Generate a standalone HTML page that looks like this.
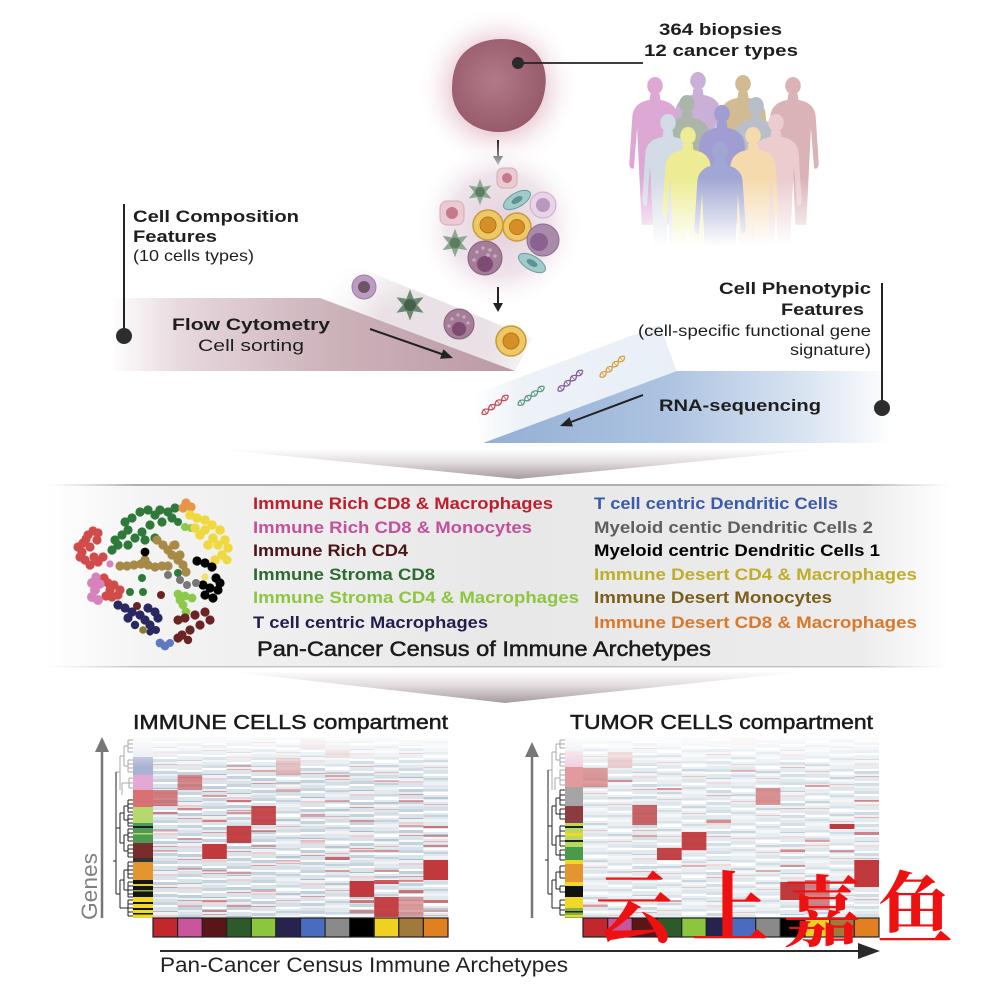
<!DOCTYPE html>
<html><head><meta charset="utf-8"><style>html,body{margin:0;padding:0;background:#fff}svg{display:block}</style></head>
<body>
<svg width="996" height="996" viewBox="0 0 996 996" xmlns="http://www.w3.org/2000/svg" xmlns:xlink="http://www.w3.org/1999/xlink" font-family="'Liberation Sans', sans-serif">
<defs>
  <radialGradient id="tGlow" cx="498" cy="88" r="82" gradientUnits="userSpaceOnUse">
    <stop offset="0.5" stop-color="#e6c3cd" stop-opacity="0.9"/>
    <stop offset="1" stop-color="#ffffff" stop-opacity="0"/>
  </radialGradient>
  <radialGradient id="tFill" cx="0.45" cy="0.45" r="0.6">
    <stop offset="0" stop-color="#b27a89"/>
    <stop offset="1" stop-color="#955868"/>
  </radialGradient>
  <radialGradient id="haze" cx="500" cy="225" r="85" gradientUnits="userSpaceOnUse">
    <stop offset="0" stop-color="#e3d0dc"/>
    <stop offset="0.6" stop-color="#efe4eb"/>
    <stop offset="1" stop-color="#ffffff" stop-opacity="0"/>
  </radialGradient>
  <linearGradient id="mauve" x1="110" y1="0" x2="515" y2="0" gradientUnits="userSpaceOnUse">
    <stop offset="0" stop-color="#ffffff"/>
    <stop offset="0.18" stop-color="#e6d8dc"/>
    <stop offset="0.55" stop-color="#cdb2ba"/>
    <stop offset="1" stop-color="#bb9aa5"/>
  </linearGradient>
  <linearGradient id="conv1" x1="340" y1="270" x2="360" y2="320" gradientUnits="userSpaceOnUse">
    <stop offset="0" stop-color="#ffffff"/>
    <stop offset="1" stop-color="#e9e1e5"/>
  </linearGradient>
  <linearGradient id="conv1h" x1="320" y1="0" x2="530" y2="0" gradientUnits="userSpaceOnUse">
    <stop offset="0" stop-color="#ffffff" stop-opacity="1"/>
    <stop offset="0.3" stop-color="#ffffff" stop-opacity="0"/>
    <stop offset="0.8" stop-color="#ffffff" stop-opacity="0"/>
    <stop offset="1" stop-color="#ffffff" stop-opacity="0.7"/>
  </linearGradient>
  <linearGradient id="blue" x1="483" y1="0" x2="892" y2="0" gradientUnits="userSpaceOnUse">
    <stop offset="0" stop-color="#93afd4"/>
    <stop offset="0.45" stop-color="#adc3e1"/>
    <stop offset="0.8" stop-color="#dbe5f2"/>
    <stop offset="1" stop-color="#ffffff"/>
  </linearGradient>
  <linearGradient id="conv2" x1="470" y1="0" x2="680" y2="0" gradientUnits="userSpaceOnUse">
    <stop offset="0" stop-color="#ffffff"/>
    <stop offset="0.25" stop-color="#edf2f8"/>
    <stop offset="1" stop-color="#e9eff7"/>
  </linearGradient>
  <linearGradient id="sep" x1="0" y1="0" x2="0" y2="1">
    <stop offset="0" stop-color="#ffffff"/>
    <stop offset="0.45" stop-color="#e2dcde"/>
    <stop offset="1" stop-color="#a39a9e"/>
  </linearGradient>
  <linearGradient id="panel" x1="45" y1="0" x2="950" y2="0" gradientUnits="userSpaceOnUse">
    <stop offset="0" stop-color="#ffffff"/>
    <stop offset="0.12" stop-color="#f3f3f3"/>
    <stop offset="0.5" stop-color="#e8e8e8"/>
    <stop offset="0.9" stop-color="#ececec"/>
    <stop offset="1" stop-color="#ffffff"/>
  </linearGradient>
  <linearGradient id="pline" x1="45" y1="0" x2="950" y2="0" gradientUnits="userSpaceOnUse">
    <stop offset="0" stop-color="#cccccc" stop-opacity="0"/>
    <stop offset="0.1" stop-color="#b0b0b0"/>
    <stop offset="0.9" stop-color="#b0b0b0"/>
    <stop offset="1" stop-color="#cccccc" stop-opacity="0"/>
  </linearGradient>
  <linearGradient id="fadeW" x1="0" y1="0" x2="0" y2="1">
    <stop offset="0" stop-color="#ffffff" stop-opacity="0"/>
    <stop offset="1" stop-color="#ffffff" stop-opacity="1"/>
  </linearGradient>
  <linearGradient id="topFade" x1="0" y1="0" x2="0" y2="1">
    <stop offset="0" stop-color="#ffffff" stop-opacity="0.9"/>
    <stop offset="1" stop-color="#ffffff" stop-opacity="0"/>
  </linearGradient>
  <clipPath id="pclip"><rect x="590" y="60" width="260" height="185"/></clipPath>
  <pattern id="pA" patternUnits="userSpaceOnUse" x="0" y="0" width="40" height="41">
    <rect width="40" height="41" fill="#dae3ea"/>
    <rect y="0" width="40" height="3" fill="#c7d4de"/>
    <rect y="3" width="40" height="2" fill="#ffffff"/>
    <rect y="9" width="40" height="1" fill="#a9bccb"/>
    <rect y="10" width="40" height="3" fill="#eef2f5"/>
    <rect y="13" width="40" height="2" fill="#ebcfd1"/>
    <rect y="19" width="40" height="2" fill="#ffffff"/>
    <rect y="21" width="40" height="3" fill="#bfcfdb"/>
    <rect y="24" width="40" height="2" fill="#e8eef2"/>
    <rect y="26" width="40" height="1" fill="#d99a9e"/>
    <rect y="31" width="40" height="2" fill="#f6f8fa"/>
    <rect y="33" width="40" height="3" fill="#c5d3dd"/>
    <rect y="36" width="40" height="2" fill="#ecf0f3"/>
  </pattern>
  <pattern id="pB" patternUnits="userSpaceOnUse" x="0" y="0" width="40" height="37">
    <rect width="40" height="37" fill="#e2e9ee"/>
    <rect y="1" width="40" height="2" fill="#cdd9e2"/>
    <rect y="4" width="40" height="3" fill="#ffffff"/>
    <rect y="9" width="40" height="2" fill="#b7c8d5"/>
    <rect y="12" width="40" height="2" fill="#f4f6f8"/>
    <rect y="16" width="40" height="1" fill="#e1b3b6"/>
    <rect y="19" width="40" height="3" fill="#d3dee6"/>
    <rect y="23" width="40" height="2" fill="#ffffff"/>
    <rect y="27" width="40" height="2" fill="#c3d2dc"/>
    <rect y="31" width="40" height="3" fill="#f0f3f6"/>
  </pattern>
  <g id="person">
    <circle cx="0" cy="10" r="10"/>
    <path d="M-6 19 L6 19 L7 26 Q27 29 29 44 L33 98 Q33 105 27 104 L23 58 L21 95 L17 168 L3 168 L0 108 L-3 168 L-17 168 L-21 95 L-23 58 L-27 104 Q-33 105 -33 98 L-29 44 Q-27 29 -7 26 Z"/>
  </g>
  <polygon id="star" points="0,-13 3,-5.2 11.3,-6.5 6,0 11.3,6.5 3,5.2 0,13 -3,5.2 -11.3,6.5 -6,0 -11.3,-6.5 -3,-5.2"/>
  <g id="dna" fill="none" stroke-width="1.3">
    <path d="M0 0 q4 -5 8 0 t8 0 t8 0 t8 0"/><path d="M0 0 q4 5 8 0 t8 0 t8 0 t8 0"/>
    <path d="M4 -3 v6 M12 -3 v6 M20 -3 v6 M28 -3 v6" stroke-width="0.8"/>
  </g>
</defs>

<rect width="996" height="996" fill="#ffffff"/>

<!-- ===== TOP: tumor ===== -->
<circle cx="498" cy="88" r="82" fill="url(#tGlow)"/>
<path d="M455 68 C462 44 490 36 513 40 C536 45 549 63 545 89 C542 113 524 133 497 132 C470 131 452 112 452 90 C452 81 453 74 455 68 Z" fill="url(#tFill)"/>
<line x1="518" y1="63" x2="643" y2="63" stroke="#222" stroke-width="1.8"/>
<circle cx="518" cy="63" r="6" fill="#2a2a2a"/>

<text x="659" y="35" font-size="17" font-weight="bold" fill="#1e1e1e" textLength="123" lengthAdjust="spacingAndGlyphs">364 biopsies</text>
<text x="644" y="56" font-size="17" font-weight="bold" fill="#1e1e1e" textLength="154" lengthAdjust="spacingAndGlyphs">12 cancer types</text>

<!-- people -->
<g clip-path="url(#pclip)">
<g opacity="0.88">
  <use xlink:href="#person" transform="translate(655,77) scale(0.78,0.88)" fill="#da9dd0"/>
  <use xlink:href="#person" transform="translate(698,72) scale(0.78,0.88)" fill="#c3a5d2"/>
  <use xlink:href="#person" transform="translate(743,75) scale(0.78,0.88)" fill="#cbb283"/>
  <use xlink:href="#person" transform="translate(793,77) scale(0.78,0.88)" fill="#d5a9ae"/>
  <use xlink:href="#person" transform="translate(687,95) scale(0.78,0.88)" fill="#a1ab9f"/>
  <use xlink:href="#person" transform="translate(756,97) scale(0.78,0.88)" fill="#b0b7c2"/>
  <use xlink:href="#person" transform="translate(722,105) scale(0.78,0.88)" fill="#9290cc"/>
  <use xlink:href="#person" transform="translate(668,114) scale(0.78,0.88)" fill="#cdd7e4"/>
  <use xlink:href="#person" transform="translate(776,114) scale(0.78,0.88)" fill="#e9c6c9"/>
  <use xlink:href="#person" transform="translate(688,127) scale(0.78,0.88)" fill="#ebea86"/>
  <use xlink:href="#person" transform="translate(753,127) scale(0.78,0.88)" fill="#f4d6a3"/>
  <use xlink:href="#person" transform="translate(720,142) scale(0.78,0.88)" fill="#959ccf"/>
</g>
</g>
<rect x="590" y="178" width="260" height="68" fill="url(#fadeW)"/>

<!-- arrows and cell cluster -->
<line x1="498" y1="140" x2="498" y2="158" stroke="#222" stroke-width="2"/>
<polygon points="493,156 498,165 503,156" fill="#222"/>
<circle cx="500" cy="225" r="85" fill="url(#haze)"/>

<g transform="translate(507,178)"><rect x="-10" y="-10" width="20" height="20" rx="6" fill="#ebcbd3" stroke="#d6aab5"/><circle r="5" fill="#c57a8c"/></g>
<g transform="translate(452,213)"><rect x="-12" y="-12" width="24" height="24" rx="7" fill="#ebcbd3" stroke="#d6aab5"/><circle r="6" fill="#c57a8c"/></g>
<g transform="translate(480,192)"><use xlink:href="#star" fill="#8da891"/><circle r="5" fill="#5d7d63"/></g>
<g transform="translate(455,243) scale(1.1)"><use xlink:href="#star" fill="#8da891"/><circle r="5" fill="#5d7d63"/></g>
<g transform="translate(517,200) rotate(-30)"><ellipse rx="15" ry="7" fill="#a0cbcb" stroke="#6b9c9c"/><ellipse rx="6" ry="3" fill="#5e9294"/></g>
<g transform="translate(532,263) rotate(30)"><ellipse rx="15" ry="7" fill="#a0cbcb" stroke="#6b9c9c"/><ellipse rx="6" ry="3" fill="#5e9294"/></g>
<g transform="translate(543,205)"><circle r="13" fill="#e8d3e8" stroke="#c9abc9"/><circle r="7" fill="#b899bd"/></g>
<g transform="translate(488,225)"><circle r="15" fill="#edc866" stroke="#c99a3a" stroke-width="1.5"/><circle r="8" fill="#d68f26" stroke="#b87418"/></g>
<g transform="translate(517,227)"><circle r="14" fill="#edc866" stroke="#c99a3a" stroke-width="1.5"/><circle r="7.5" fill="#d68f26" stroke="#b87418"/></g>
<g transform="translate(543,240)"><circle r="16" fill="#aa8aab" stroke="#8d6d90"/><circle cx="-4" cy="2" r="9" fill="#8a6290"/></g>
<g transform="translate(485,258)"><circle r="17" fill="#a57d98" stroke="#86607c"/><circle cx="0" cy="6" r="8" fill="#7e4c72"/><g fill="#c9a8c0"><circle cx="-8" cy="-6" r="1.8"/><circle cx="-2" cy="-10" r="1.8"/><circle cx="5" cy="-8" r="1.8"/><circle cx="10" cy="-2" r="1.8"/><circle cx="-11" cy="2" r="1.8"/><circle cx="3" cy="-3" r="1.8"/></g></g>

<line x1="498" y1="287" x2="498" y2="305" stroke="#222" stroke-width="2"/>
<polygon points="493,303 498,312 503,303" fill="#222"/>

<!-- Flow cytometry band -->
<polygon points="345,262 532,338 515,371 320,298" fill="url(#conv1)"/>
<polygon points="345,262 532,338 515,371 320,298" fill="url(#conv1h)"/>
<polygon points="113,298 320,298 515,371 113,371" fill="url(#mauve)"/>
<g transform="translate(364,287)"><circle r="12" fill="#bd9cc4" stroke="#9d7da4"/><circle r="6" fill="#6e5566"/></g>
<g transform="translate(410,305) scale(1.2)"><use xlink:href="#star" fill="#6b8a72"/><circle r="5" fill="#44604a"/></g>
<g transform="translate(459,324)"><circle r="15" fill="#a57d98" stroke="#86607c"/><circle cx="0" cy="5" r="7" fill="#7e4c72"/><g fill="#c9a8c0"><circle cx="-7" cy="-5" r="1.6"/><circle cx="-1" cy="-9" r="1.6"/><circle cx="5" cy="-7" r="1.6"/><circle cx="9" cy="-1" r="1.6"/><circle cx="-10" cy="2" r="1.6"/></g></g>
<g transform="translate(511,341)"><circle r="15" fill="#edc866" stroke="#c99a3a" stroke-width="1.5"/><circle r="8" fill="#d68f26" stroke="#b87418"/></g>

<line x1="370" y1="329" x2="443" y2="354.5" stroke="#222" stroke-width="2"/>
<polygon points="453,358 440,358.7 443.4,349.3" fill="#222"/>

<line x1="124" y1="204" x2="124" y2="336" stroke="#222" stroke-width="2"/>
<circle cx="124" cy="336" r="8" fill="#2d2d2d"/>
<text x="133" y="222" font-size="17" font-weight="bold" fill="#1e1e1e" textLength="166" lengthAdjust="spacingAndGlyphs">Cell Composition</text>
<text x="133" y="242" font-size="17" font-weight="bold" fill="#1e1e1e" textLength="84" lengthAdjust="spacingAndGlyphs">Features</text>
<text x="133" y="261" font-size="16" fill="#1e1e1e" textLength="121" lengthAdjust="spacingAndGlyphs">(10 cells types)</text>
<text x="172" y="330" font-size="17" font-weight="bold" fill="#1e1e1e" textLength="158" lengthAdjust="spacingAndGlyphs">Flow Cytometry</text>
<text x="198" y="351" font-size="17" fill="#1e1e1e" textLength="106" lengthAdjust="spacingAndGlyphs">Cell sorting</text>

<!-- RNA band -->
<polygon points="472,395 660,325 677,372 483,443" fill="url(#conv2)"/>
<polygon points="677,371 892,371 892,443 483,443" fill="url(#blue)"/>
<use xlink:href="#dna" transform="translate(482,414) rotate(-35)" stroke="#c24d5a"/>
<use xlink:href="#dna" transform="translate(518,405) rotate(-35)" stroke="#5d9a7f"/>
<use xlink:href="#dna" transform="translate(558,391) rotate(-40)" stroke="#8a5b9c"/>
<use xlink:href="#dna" transform="translate(600,377) rotate(-40)" stroke="#d8a040"/>
<line x1="643" y1="395" x2="571" y2="422" stroke="#222" stroke-width="2"/>
<polygon points="560,426 569.5,417.1 573,426.5" fill="#222"/>
<text x="659" y="411" font-size="17" font-weight="bold" fill="#1e1e1e" textLength="162" lengthAdjust="spacingAndGlyphs">RNA-sequencing</text>

<line x1="882" y1="283" x2="882" y2="408" stroke="#222" stroke-width="2"/>
<circle cx="882" cy="408" r="8" fill="#2d2d2d"/>
<text x="719" y="294" font-size="17" font-weight="bold" fill="#1e1e1e" textLength="152" lengthAdjust="spacingAndGlyphs">Cell Phenotypic</text>
<text x="781" y="315" font-size="17" font-weight="bold" fill="#1e1e1e" textLength="83" lengthAdjust="spacingAndGlyphs">Features</text>
<text x="638" y="336" font-size="16" fill="#1e1e1e" textLength="233" lengthAdjust="spacingAndGlyphs">(cell-specific functional gene</text>
<text x="790" y="355" font-size="16" fill="#1e1e1e" textLength="81" lengthAdjust="spacingAndGlyphs">signature)</text>

<!-- separator 1 -->
<polygon points="215,449 825,449 518,479" fill="url(#sep)"/>

<!-- ===== MIDDLE PANEL ===== -->
<rect x="45" y="485" width="905" height="182" fill="url(#panel)"/>
<rect x="45" y="484" width="905" height="2" fill="url(#pline)"/>
<rect x="45" y="666" width="905" height="1.5" fill="url(#pline)" opacity="0.7"/>

<!-- scatter -->
<g>
  <g fill="#d24b4b">
    <circle cx="78" cy="547" r="4.6"/><circle cx="82" cy="552" r="4.6"/><circle cx="80" cy="557" r="4.6"/><circle cx="85" cy="560" r="4.6"/><circle cx="90" cy="565" r="4.6"/><circle cx="83" cy="543" r="4.6"/><circle cx="88" cy="535" r="4.6"/><circle cx="93" cy="531" r="4.6"/><circle cx="98" cy="533" r="4.6"/><circle cx="97" cy="540" r="4.6"/><circle cx="94" cy="557" r="4.6"/><circle cx="98" cy="562" r="4.6"/><circle cx="103" cy="557" r="4.6"/><circle cx="90" cy="547" r="4.6"/><circle cx="86" cy="539" r="4.6"/>
    <circle cx="104" cy="578" r="4.6"/><circle cx="108" cy="583" r="4.6"/><circle cx="110" cy="590" r="4.6"/><circle cx="106" cy="596" r="4.6"/><circle cx="112" cy="597" r="4.6"/><circle cx="118" cy="595" r="4.6"/><circle cx="114" cy="585" r="4.6"/><circle cx="120" cy="590" r="4.6"/>
  </g>
  <g fill="#d683bb">
    <circle cx="92" cy="583" r="5"/><circle cx="95" cy="590" r="5"/><circle cx="92" cy="597" r="5"/><circle cx="98" cy="600" r="5"/><circle cx="96" cy="577" r="4.6"/><circle cx="100" cy="584" r="4.6"/><circle cx="110" cy="564" r="3.6"/>
  </g>
  <g fill="#2f7a3a">
    <circle cx="112" cy="550" r="4.6"/><circle cx="118" cy="545" r="4.6"/><circle cx="115" cy="540" r="4.6"/><circle cx="122" cy="535" r="4.6"/><circle cx="128" cy="530" r="4.6"/><circle cx="125" cy="522" r="4.6"/><circle cx="132" cy="518" r="4.6"/><circle cx="140" cy="512" r="4.6"/><circle cx="148" cy="510" r="4.6"/><circle cx="155" cy="515" r="4.6"/><circle cx="160" cy="510" r="4.6"/><circle cx="168" cy="512" r="4.6"/><circle cx="175" cy="508" r="4.6"/><circle cx="172" cy="518" r="4.6"/><circle cx="162" cy="522" r="4.6"/><circle cx="150" cy="525" r="4.6"/><circle cx="142" cy="532" r="4.6"/><circle cx="135" cy="538" r="4.6"/><circle cx="145" cy="540" r="4.6"/><circle cx="155" cy="538" r="4.6"/><circle cx="128" cy="545" r="4.6"/><circle cx="178" cy="522" r="4"/>
    <circle cx="142" cy="578" r="4"/><circle cx="130" cy="592" r="4"/><circle cx="143" cy="592" r="4"/><circle cx="178" cy="573" r="4"/>
  </g>
  <g fill="#e8944a"><circle cx="186" cy="503" r="4.6"/><circle cx="191" cy="507" r="4.6"/><circle cx="183" cy="508" r="4.6"/><circle cx="173" cy="545" r="4"/></g>
  <g fill="#8cc84a"><circle cx="185" cy="527" r="4"/><circle cx="191" cy="528" r="4"/></g>
  <g fill="#f0d840">
    <circle cx="190" cy="515" r="4.8"/><circle cx="197" cy="518" r="4.8"/><circle cx="205" cy="520" r="4.8"/><circle cx="212" cy="525" r="4.8"/><circle cx="220" cy="530" r="4.8"/><circle cx="225" cy="540" r="4.8"/><circle cx="228" cy="548" r="4.8"/><circle cx="222" cy="555" r="4.8"/><circle cx="215" cy="560" r="4.8"/><circle cx="208" cy="545" r="4.8"/><circle cx="200" cy="535" r="4.8"/><circle cx="213" cy="538" r="4.8"/><circle cx="195" cy="528" r="4.8"/><circle cx="218" cy="545" r="4.8"/><circle cx="227" cy="560" r="4.5"/><circle cx="205" cy="530" r="4.8"/>
  </g>
  <g fill="#a68a45">
    <circle cx="120" cy="566" r="4.6"/><circle cx="127" cy="566" r="4.6"/><circle cx="134" cy="565" r="4.6"/><circle cx="141" cy="564" r="4.6"/><circle cx="148" cy="565" r="4.6"/><circle cx="155" cy="567" r="4.6"/><circle cx="162" cy="566" r="4.6"/><circle cx="168" cy="566" r="4.6"/><circle cx="145" cy="560" r="4.6"/>
    <circle cx="157" cy="540" r="4.6"/><circle cx="163" cy="545" r="4.6"/><circle cx="168" cy="550" r="4.6"/><circle cx="172" cy="555" r="4.6"/><circle cx="178" cy="560" r="4.6"/><circle cx="183" cy="565" r="4.6"/><circle cx="186" cy="572" r="4.6"/><circle cx="175" cy="545" r="4.6"/><circle cx="180" cy="555" r="4.6"/>
  </g>
  <g fill="#000">
    <circle cx="145" cy="552" r="4.4"/><circle cx="197" cy="561" r="4.6"/><circle cx="205" cy="563" r="4.6"/><circle cx="212" cy="567" r="4.6"/><circle cx="203" cy="585" r="4.6"/><circle cx="210" cy="588" r="4.6"/><circle cx="218" cy="590" r="4.6"/><circle cx="205" cy="595" r="4.6"/><circle cx="213" cy="598" r="4.6"/><circle cx="220" cy="583" r="4.6"/><circle cx="216" cy="578" r="4.6"/>
  </g>
  <g fill="#777"><circle cx="168" cy="575" r="4"/><circle cx="180" cy="580" r="4"/><circle cx="187" cy="585" r="4"/><circle cx="196" cy="583" r="4"/></g>
  <circle cx="205" cy="577" r="3.6" fill="#f0e070"/>
  <g fill="#8cc84a"><circle cx="178" cy="594" r="4.4"/><circle cx="185" cy="596" r="4.4"/><circle cx="192" cy="598" r="4.4"/><circle cx="183" cy="605" r="4.4"/><circle cx="186" cy="612" r="4.4"/><circle cx="180" cy="600" r="4.4"/></g>
  <g fill="#6a2424">
    <circle cx="161" cy="595" r="4"/><circle cx="137" cy="606" r="4"/><circle cx="178" cy="620" r="4.6"/><circle cx="185" cy="618" r="4.6"/><circle cx="190" cy="630" r="4.6"/><circle cx="182" cy="635" r="4.6"/><circle cx="195" cy="615" r="4.6"/><circle cx="205" cy="612" r="4.6"/><circle cx="210" cy="620" r="4.6"/><circle cx="200" cy="625" r="4.6"/><circle cx="178" cy="638" r="4.6"/><circle cx="188" cy="640" r="4.2"/>
  </g>
  <g fill="#2a2860">
    <circle cx="118" cy="605" r="4.6"/><circle cx="125" cy="608" r="4.6"/><circle cx="132" cy="612" r="4.6"/><circle cx="140" cy="615" r="4.6"/><circle cx="145" cy="620" r="4.6"/><circle cx="150" cy="625" r="4.6"/><circle cx="148" cy="608" r="4.6"/><circle cx="155" cy="612" r="4.6"/><circle cx="158" cy="618" r="4.6"/><circle cx="135" cy="625" r="4.2"/><circle cx="128" cy="618" r="4.6"/><circle cx="156" cy="630" r="4"/><circle cx="150" cy="632" r="3.6"/>
  </g>
  <circle cx="143" cy="630" r="3.8" fill="#8a7a30"/>
  <g fill="#6078c0"><circle cx="160" cy="643" r="4.4"/><circle cx="165" cy="646" r="4.4"/><circle cx="170" cy="643" r="4"/></g>
</g>

<g font-size="17" font-weight="bold">
  <text x="253" y="509" fill="#be1e2d" textLength="300" lengthAdjust="spacingAndGlyphs">Immune Rich CD8 &amp; Macrophages</text>
  <text x="253" y="533" fill="#c4509a" textLength="279" lengthAdjust="spacingAndGlyphs">Immune Rich CD8 &amp; Monocytes</text>
  <text x="253" y="556" fill="#4a1515" textLength="155" lengthAdjust="spacingAndGlyphs">Immune Rich CD4</text>
  <text x="253" y="580" fill="#2e6b30" textLength="182" lengthAdjust="spacingAndGlyphs">Immune Stroma CD8</text>
  <text x="253" y="603" fill="#8dc63f" textLength="326" lengthAdjust="spacingAndGlyphs">Immune Stroma CD4 &amp; Macrophages</text>
  <text x="253" y="628" fill="#211e4e" textLength="235" lengthAdjust="spacingAndGlyphs">T cell centric Macrophages</text>
  <text x="594" y="509" fill="#3b5ba9" textLength="244" lengthAdjust="spacingAndGlyphs">T cell centric Dendritic Cells</text>
  <text x="594" y="533" fill="#5f5f5f" textLength="279" lengthAdjust="spacingAndGlyphs">Myeloid centic Dendritic Cells 2</text>
  <text x="594" y="556" fill="#000000" textLength="286" lengthAdjust="spacingAndGlyphs">Myeloid centric Dendritic Cells 1</text>
  <text x="594" y="580" fill="#bfae2a" textLength="323" lengthAdjust="spacingAndGlyphs">Immune Desert CD4 &amp; Macrophages</text>
  <text x="594" y="603" fill="#7b5e1c" textLength="238" lengthAdjust="spacingAndGlyphs">Immune Desert Monocytes</text>
  <text x="594" y="628" fill="#d9782a" textLength="323" lengthAdjust="spacingAndGlyphs">Immune Desert CD8 &amp; Macrophages</text>
</g>
<text x="257" y="656" font-size="21" fill="#1a1a1a" stroke="#1a1a1a" stroke-width="0.5" textLength="454" lengthAdjust="spacingAndGlyphs">Pan-Cancer Census of Immune Archetypes</text>

<!-- separator 2 -->
<polygon points="225,671 810,671 505,703" fill="url(#sep)"/>

<!-- ===== BOTTOM ===== -->
<text x="133" y="729" font-size="20" fill="#1a1a1a" stroke="#1a1a1a" stroke-width="0.5" textLength="315" lengthAdjust="spacingAndGlyphs">IMMUNE CELLS compartment</text>
<text x="570" y="729" font-size="20" fill="#1a1a1a" stroke="#1a1a1a" stroke-width="0.5" textLength="303" lengthAdjust="spacingAndGlyphs">TUMOR CELLS compartment</text>

<!-- left heatmap -->
<g>
  <rect x="153" y="737" width="24.6" height="181" fill="url(#pA)"/>
  <rect x="177.6" y="724" width="24.6" height="181" fill="url(#pA)" transform="translate(0,13)"/>
  <rect x="202.2" y="710" width="24.6" height="181" fill="url(#pA)" transform="translate(0,27)"/>
  <rect x="226.7" y="732" width="24.6" height="181" fill="url(#pA)" transform="translate(0,5)"/>
  <rect x="251.3" y="718" width="24.6" height="181" fill="url(#pA)" transform="translate(0,19)"/>
  <rect x="275.9" y="704" width="24.6" height="181" fill="url(#pB)" transform="translate(0,33)"/>
  <rect x="300.5" y="728" width="24.6" height="181" fill="url(#pA)" transform="translate(0,9)"/>
  <rect x="325.1" y="714" width="24.6" height="181" fill="url(#pB)" transform="translate(0,23)"/>
  <rect x="349.6" y="735" width="24.6" height="181" fill="url(#pA)" transform="translate(0,2)"/>
  <rect x="374.2" y="721" width="24.6" height="181" fill="url(#pB)" transform="translate(0,16)"/>
  <rect x="398.8" y="707" width="24.6" height="181" fill="url(#pA)" transform="translate(0,30)"/>
  <rect x="423.4" y="726" width="24.6" height="181" fill="url(#pB)" transform="translate(0,11)"/>
</g>
<g fill="#c8474a">
  <rect x="153" y="812" width="24.6" height="2" opacity="0.6"/><rect x="153" y="830" width="24.6" height="1.5" opacity="0.5"/><rect x="153" y="850" width="24.6" height="2" opacity="0.4"/>
  <rect x="177.6" y="808" width="24.6" height="2" opacity="0.6"/><rect x="177.6" y="838" width="24.6" height="2" opacity="0.5"/><rect x="177.6" y="868" width="24.6" height="2" opacity="0.4"/><rect x="177.6" y="905" width="24.6" height="2" opacity="0.4"/>
  <rect x="202.2" y="795" width="24.6" height="2" opacity="0.5"/><rect x="202.2" y="820" width="24.6" height="2" opacity="0.6"/><rect x="202.2" y="870" width="24.6" height="1.5" opacity="0.5"/><rect x="202.2" y="900" width="24.6" height="2" opacity="0.6"/><rect x="202.2" y="910" width="24.6" height="2" opacity="0.5"/>
  <rect x="226.7" y="765" width="24.6" height="2" opacity="0.5"/><rect x="226.7" y="800" width="24.6" height="2" opacity="0.7"/><rect x="226.7" y="812" width="24.6" height="2" opacity="0.5"/><rect x="226.7" y="872" width="24.6" height="2" opacity="0.5"/><rect x="226.7" y="905" width="24.6" height="2" opacity="0.5"/>
  <rect x="251.3" y="770" width="24.6" height="2" opacity="0.4"/><rect x="251.3" y="830" width="24.6" height="2" opacity="0.6"/><rect x="251.3" y="845" width="24.6" height="2" opacity="0.5"/><rect x="251.3" y="890" width="24.6" height="2" opacity="0.4"/>
  <rect x="275.9" y="790" width="24.6" height="2" opacity="0.4"/><rect x="275.9" y="860" width="24.6" height="1.5" opacity="0.4"/>
  <rect x="300.5" y="815" width="24.6" height="2" opacity="0.4"/><rect x="300.5" y="840" width="24.6" height="2" opacity="0.3"/>
  <rect x="325.1" y="775" width="24.6" height="2" opacity="0.5"/><rect x="325.1" y="800" width="24.6" height="2" opacity="0.4"/><rect x="325.1" y="857" width="24.6" height="3" opacity="0.8"/><rect x="325.1" y="870" width="24.6" height="2" opacity="0.5"/>
  <rect x="349.6" y="820" width="24.6" height="2" opacity="0.5"/><rect x="349.6" y="850" width="24.6" height="2" opacity="0.4"/><rect x="349.6" y="900" width="24.6" height="3" opacity="0.7"/><rect x="349.6" y="910" width="24.6" height="3" opacity="0.6"/>
  <rect x="374.2" y="780" width="24.6" height="2" opacity="0.4"/><rect x="374.2" y="850" width="24.6" height="2" opacity="0.5"/><rect x="374.2" y="870" width="24.6" height="2" opacity="0.6"/><rect x="374.2" y="880" width="24.6" height="4" opacity="0.9"/>
  <rect x="398.8" y="800" width="24.6" height="2" opacity="0.5"/><rect x="398.8" y="825" width="24.6" height="2" opacity="0.4"/><rect x="398.8" y="880" width="24.6" height="2" opacity="0.6"/><rect x="398.8" y="890" width="24.6" height="3" opacity="0.7"/>
  <rect x="423.4" y="826" width="24.6" height="2" opacity="0.7"/><rect x="423.4" y="835" width="24.6" height="2" opacity="0.5"/><rect x="423.4" y="845" width="24.6" height="2" opacity="0.6"/><rect x="423.4" y="900" width="24.6" height="3" opacity="0.7"/><rect x="423.4" y="910" width="24.6" height="2" opacity="0.5"/>
</g>
<g>
  <rect x="153" y="790" width="24.6" height="16" fill="#c85a5c" opacity="0.75"/>
  <rect x="177.6" y="775" width="24.6" height="15" fill="#c85a5c" opacity="0.7"/>
  <rect x="202.2" y="844" width="24.6" height="15" fill="#c0393c"/>
  <rect x="226.7" y="826" width="24.6" height="17" fill="#c0393c" opacity="0.95"/>
  <rect x="251.3" y="806" width="24.6" height="19" fill="#c0393c" opacity="0.9"/>
  <rect x="275.9" y="758" width="24.6" height="17" fill="#d07a7c" opacity="0.55"/>
  <rect x="300.5" y="737" width="24.6" height="11" fill="#e0a8aa" opacity="0.6"/>
  <rect x="325.1" y="749" width="24.6" height="9" fill="#e0a8aa" opacity="0.6"/>
  <rect x="349.6" y="881" width="24.6" height="16" fill="#c0393c"/>
  <rect x="374.2" y="897" width="24.6" height="20" fill="#c0393c" opacity="0.95"/>
  <rect x="398.8" y="897" width="24.6" height="20" fill="#d06a6c" opacity="0.6"/>
  <rect x="423.4" y="860" width="24.6" height="20" fill="#c0393c"/>
</g>
<rect x="153" y="737" width="295" height="40" fill="url(#topFade)"/>

<!-- left side color bar -->
<g>
  <rect x="133" y="737" width="20" height="20" fill="#e6e8f2"/>
  <rect x="133" y="757" width="20" height="18" fill="#aab2d2"/>
  <rect x="133" y="775" width="20" height="15" fill="#e1a9d4"/>
  <rect x="133" y="790" width="20" height="17" fill="#d97071"/>
  <rect x="133" y="807" width="20" height="16" fill="#b5d96e"/>
  <rect x="133" y="823" width="20" height="20" fill="#4f9a52"/>
  <rect x="133" y="826" width="20" height="2" fill="#222"/><rect x="133" y="833" width="20" height="1.5" fill="#b5d96e"/>
  <rect x="133" y="843" width="20" height="15" fill="#7a2c2c"/>
  <rect x="133" y="858" width="20" height="4" fill="#333"/>
  <rect x="133" y="862" width="20" height="18" fill="#e3952f"/>
  <rect x="133" y="880" width="20" height="17" fill="#151515"/>
  <rect x="133" y="884" width="20" height="2" fill="#e8d030"/><rect x="133" y="890" width="20" height="1.5" fill="#8ab040"/>
  <rect x="133" y="897" width="20" height="21" fill="#f0d828"/>
  <rect x="133" y="902" width="20" height="2" fill="#111"/><rect x="133" y="908" width="20" height="2" fill="#111"/><rect x="133" y="913" width="20" height="1.5" fill="#111"/>
  <rect x="133" y="737" width="20" height="30" fill="url(#topFade)"/>
</g>
<!-- left dendrogram -->
<g fill="none" stroke-width="1">
  <path stroke="#aaa" d="M133 740H128M133 744H128M133 748H128M133 752H128M128 740V752M128 746H124 M133 760H128M133 764H128M133 768H128M133 772H128M128 760V772M128 766H124M124 746V766M124 756H120 M133 778H129M133 783H129M133 788H129M129 778V788M129 783H122M122 783V795M120 756V790M120 772H116"/>
  <path stroke="#222" d="M133 800H128M133 804H128M133 808H128M133 812H128M128 800V812M128 806H124 M133 815H128M133 819H128M133 823H128M133 826H128M128 815V826M128 820H124M124 806V820M124 813H120 M133 829H128M133 833H128M133 837H128M133 841H128M128 829V841M128 835H124 M133 845H128M133 849H128M133 853H128M133 857H128M128 845V857M128 851H124M124 835V851M124 843H120M120 813V843M120 828H116 M133 862H128M133 866H128M133 870H128M133 874H128M133 878H128M128 862V878M128 870H124 M133 882H128M133 886H128M133 890H128M133 894H128M133 897H128M128 882V897M128 890H124M124 870V890M124 880H120 M133 900H128M133 904H128M133 908H128M133 912H128M133 916H128M128 900V916M128 908H124M124 908H120M120 880V908M120 894H116M116 828V894M116 861H113 M116 772V828"/>
</g>
<!-- left color key row -->
<g stroke="#222" stroke-width="1.2">
  <rect x="153" y="918" width="24.6" height="19" fill="#c1272d"/>
  <rect x="177.6" y="918" width="24.6" height="19" fill="#c9559b"/>
  <rect x="202.2" y="918" width="24.6" height="19" fill="#5a1518"/>
  <rect x="226.7" y="918" width="24.6" height="19" fill="#2d5a2a"/>
  <rect x="251.3" y="918" width="24.6" height="19" fill="#8cc63f"/>
  <rect x="275.9" y="918" width="24.6" height="19" fill="#27234f"/>
  <rect x="300.5" y="918" width="24.6" height="19" fill="#4a6cc0"/>
  <rect x="325.1" y="918" width="24.6" height="19" fill="#8a8a8a"/>
  <rect x="349.6" y="918" width="24.6" height="19" fill="#000000"/>
  <rect x="374.2" y="918" width="24.6" height="19" fill="#f0d020"/>
  <rect x="398.8" y="918" width="24.6" height="19" fill="#a07a3a"/>
  <rect x="423.4" y="918" width="24.6" height="19" fill="#e08020"/>
</g>

<!-- Genes arrow -->
<line x1="102" y1="918" x2="102" y2="750" stroke="#777" stroke-width="2.5"/>
<polygon points="95,752 102,737 109,752" fill="#777"/>
<text transform="translate(97,920) rotate(-90)" font-size="22" fill="#808080" textLength="67" lengthAdjust="spacingAndGlyphs">Genes</text>

<!-- right heatmap -->
<g>
  <rect x="583" y="737" width="24.7" height="181" fill="url(#pB)"/>
  <rect x="607.7" y="726" width="24.7" height="181" fill="url(#pB)" transform="translate(0,11)"/>
  <rect x="632.3" y="712" width="24.7" height="181" fill="url(#pA)" transform="translate(0,25)"/>
  <rect x="657" y="731" width="24.7" height="181" fill="url(#pB)" transform="translate(0,6)"/>
  <rect x="681.7" y="717" width="24.7" height="181" fill="url(#pB)" transform="translate(0,20)"/>
  <rect x="706.3" y="706" width="24.7" height="181" fill="url(#pA)" transform="translate(0,31)"/>
  <rect x="731" y="729" width="24.7" height="181" fill="url(#pB)" transform="translate(0,8)"/>
  <rect x="755.7" y="715" width="24.7" height="181" fill="url(#pB)" transform="translate(0,22)"/>
  <rect x="780.3" y="734" width="24.7" height="181" fill="url(#pA)" transform="translate(0,3)"/>
  <rect x="805" y="722" width="24.7" height="181" fill="url(#pB)" transform="translate(0,15)"/>
  <rect x="829.7" y="709" width="24.7" height="181" fill="url(#pB)" transform="translate(0,28)"/>
  <rect x="854.3" y="725" width="24.7" height="181" fill="url(#pA)" transform="translate(0,12)"/>
  <rect x="583" y="737" width="296" height="181" fill="#ffffff" opacity="0.25"/>
</g>
<g fill="#c8474a">
  <rect x="657" y="788" width="24.7" height="2" opacity="0.6"/><rect x="607.7" y="780" width="24.7" height="2" opacity="0.6"/>
  <rect x="632.3" y="835" width="24.7" height="2" opacity="0.5"/><rect x="706.3" y="820" width="24.7" height="3" opacity="0.6"/>
  <rect x="780.3" y="850" width="24.7" height="2" opacity="0.6"/><rect x="780.3" y="865" width="24.7" height="2" opacity="0.5"/>
  <rect x="805" y="785" width="24.7" height="2" opacity="0.5"/><rect x="854.3" y="800" width="24.7" height="2" opacity="0.5"/>
  <rect x="854.3" y="832" width="24.7" height="3" opacity="0.6"/><rect x="829.7" y="850" width="24.7" height="2" opacity="0.5"/>
  <rect x="805" y="840" width="24.7" height="2" opacity="0.5"/><rect x="681.7" y="865" width="24.7" height="2" opacity="0.4"/>
  <rect x="731" y="770" width="24.7" height="2" opacity="0.4"/><rect x="657" y="900" width="24.7" height="2" opacity="0.5"/>
  <rect x="755.7" y="870" width="24.7" height="2" opacity="0.4"/><rect x="583" y="905" width="24.7" height="2" opacity="0.5"/>
</g>
<g>
  <rect x="583" y="768" width="24.7" height="19" fill="#d07072" opacity="0.7"/>
  <rect x="607.7" y="752" width="24.7" height="15" fill="#e0a0a2" opacity="0.6"/>
  <rect x="632.3" y="805" width="24.7" height="20" fill="#c04a4c" opacity="0.85"/>
  <rect x="657" y="848" width="24.7" height="12" fill="#c0393c" opacity="0.95"/>
  <rect x="681.7" y="832" width="24.7" height="18" fill="#c0393c" opacity="0.95"/>
  <rect x="731" y="737" width="24.7" height="8" fill="#e8b8ba" opacity="0.5"/>
  <rect x="755.7" y="788" width="24.7" height="17" fill="#d07072" opacity="0.75"/>
  <rect x="780.3" y="882" width="24.7" height="18" fill="#c0393c"/>
  <rect x="805" y="880" width="24.7" height="30" fill="#c0393c" opacity="0.6"/>
  <rect x="829.7" y="824" width="24.7" height="5" fill="#c0393c"/>
  <rect x="854.3" y="860" width="24.7" height="27" fill="#c0393c"/>
</g>
<rect x="583" y="737" width="296" height="35" fill="url(#topFade)"/>

<!-- right side bar -->
<g>
  <rect x="565" y="737" width="18" height="14" fill="#e6e8f3"/>
  <rect x="565" y="751" width="18" height="16" fill="#f0d0e0"/>
  <rect x="565" y="767" width="18" height="20" fill="#e39a9e"/>
  <rect x="565" y="787" width="18" height="19" fill="#a5a5a5"/>
  <rect x="565" y="806" width="18" height="17" fill="#8a3c40"/>
  <rect x="565" y="823" width="18" height="24" fill="#b8d860"/>
  <rect x="565" y="826" width="18" height="2" fill="#222"/><rect x="565" y="833" width="18" height="3" fill="#f0d828"/><rect x="565" y="840" width="18" height="2" fill="#222"/>
  <rect x="565" y="847" width="18" height="13" fill="#4a9a4c"/>
  <rect x="565" y="860" width="18" height="4" fill="#f0d828"/>
  <rect x="565" y="864" width="18" height="18" fill="#e3952f"/>
  <rect x="565" y="882" width="18" height="4" fill="#f0d828"/>
  <rect x="565" y="886" width="18" height="11" fill="#111"/>
  <rect x="565" y="897" width="18" height="11" fill="#f0d828"/>
  <rect x="565" y="908" width="18" height="10" fill="#8ab040"/>
  <rect x="565" y="911" width="18" height="1.5" fill="#222"/><rect x="565" y="915" width="18" height="2" fill="#f0d828"/>
  <rect x="565" y="737" width="18" height="30" fill="url(#topFade)"/>
</g>
<g fill="none" stroke-width="1">
  <path stroke="#aaa" d="M565 740H560M565 744H560M565 748H560M560 740V748M560 744H556 M565 754H560M565 758H560M565 762H560M565 766H560M560 754V766M560 760H556M556 744V760M556 752H552 M565 770H560M565 775H560M565 780H560M565 785H560M560 770V785M560 778H555M555 778V790M552 752V790M552 770H548"/>
  <path stroke="#222" d="M565 790H560M565 795H560M565 800H560M565 805H560M560 790V805M560 798H556 M565 809H560M565 814H560M565 819H560M560 809V819M560 814H556M556 798V814M556 806H552 M565 826H560M565 831H560M565 836H560M565 841H560M565 846H560M560 826V846M560 836H556 M565 850H560M565 855H560M565 860H560M560 850V860M560 855H556M556 836V855M556 845H552M552 806V845M552 826H548 M565 866H560M565 872H560M565 878H560M560 866V878M560 872H556 M565 886H560M565 892H560M560 886V892M560 889H556M556 872V889M556 880H552 M565 900H560M565 905H560M565 910H560M565 915H560M560 900V915M560 908H556M556 908H552M552 880V908M552 894H548M548 826V894M548 860H545M548 770V826"/>
</g>
<g stroke="#222" stroke-width="1.2">
  <rect x="583" y="918" width="24.7" height="19" fill="#c1272d"/>
  <rect x="607.7" y="918" width="24.7" height="19" fill="#c9559b"/>
  <rect x="632.3" y="918" width="24.7" height="19" fill="#5a1518"/>
  <rect x="657" y="918" width="24.7" height="19" fill="#2d5a2a"/>
  <rect x="681.7" y="918" width="24.7" height="19" fill="#8cc63f"/>
  <rect x="706.3" y="918" width="24.7" height="19" fill="#27234f"/>
  <rect x="731" y="918" width="24.7" height="19" fill="#4a6cc0"/>
  <rect x="755.7" y="918" width="24.7" height="19" fill="#8a8a8a"/>
  <rect x="780.3" y="918" width="24.7" height="19" fill="#000000"/>
  <rect x="805" y="918" width="24.7" height="19" fill="#f0d020"/>
  <rect x="829.7" y="918" width="24.7" height="19" fill="#a07a3a"/>
  <rect x="854.3" y="918" width="24.7" height="19" fill="#e08020"/>
</g>
<line x1="532" y1="918" x2="532" y2="755" stroke="#777" stroke-width="2.5"/>
<polygon points="525,757 532,742 539,757" fill="#777"/>

<!-- x axis -->
<line x1="160" y1="951" x2="862" y2="951" stroke="#2a2a2a" stroke-width="2"/>
<polygon points="858,943 880,951 858,959" fill="#2a2a2a"/>
<text x="160" y="972" font-size="21" fill="#222" textLength="408" lengthAdjust="spacingAndGlyphs">Pan-Cancer Census Immune Archetypes</text>

<!-- watermark -->
<g font-family="'Noto Serif CJK SC', 'Noto Sans CJK SC', serif" font-weight="bold" font-size="78" fill="#ee1111" text-anchor="middle">
  <text x="634" y="936">云</text>
  <text x="730" y="935">上</text>
  <text x="822" y="940">嘉</text>
  <text x="915" y="936">鱼</text>
</g>
</svg>
</body></html>
